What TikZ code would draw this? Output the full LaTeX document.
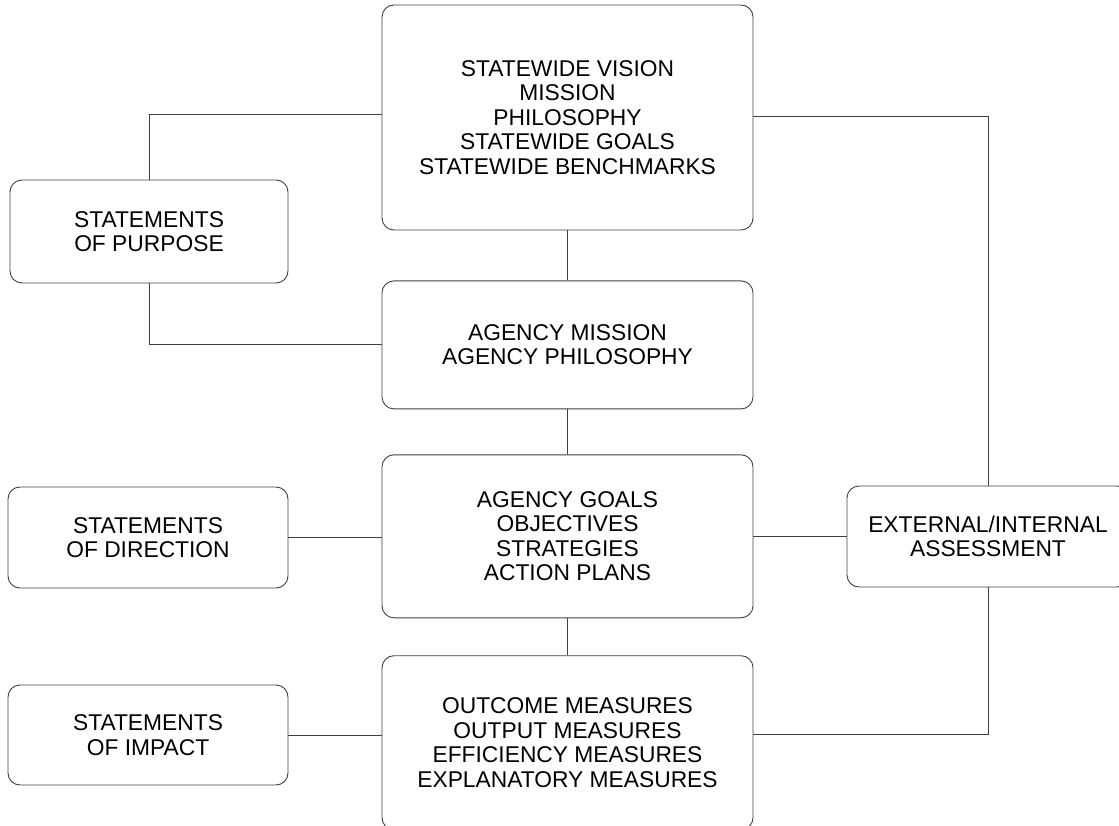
\documentclass[tikz,border=0pt]{standalone}
\usepackage{fontspec}
\setmainfont{Liberation Sans}
\usetikzlibrary{positioning}

\begin{document}
\begin{tikzpicture}[
    x=1pt, y=-1pt,
    node distance=45pt,
    box/.style={rectangle, rounded corners=12pt, draw=black!75, line width=0.9pt, align=center, inner sep=0pt, font=\fontsize{22.8}{24.5}\selectfont},
    line/.style={draw=black!75, line width=0.9pt}
]
\useasboundingbox (0,0) rectangle (1119,826);

% Centre column
\node[box, minimum width=371pt, minimum height=225pt] (vision) at (567.5,117.5) {STATEWIDE VISION\\MISSION\\PHILOSOPHY\\STATEWIDE GOALS\\STATEWIDE BENCHMARKS};
\node[box, minimum width=371pt, minimum height=128pt, below=50pt of vision] (mission) {AGENCY MISSION\\AGENCY PHILOSOPHY};
\node[box, minimum width=371pt, minimum height=163pt, below=of mission] (goals) {AGENCY GOALS\\OBJECTIVES\\STRATEGIES\\ACTION PLANS};
\node[box, minimum width=371pt, minimum height=174pt, below=37pt of goals] (measures) {OUTCOME MEASURES\\OUTPUT MEASURES\\EFFICIENCY MEASURES\\EXPLANATORY MEASURES};

% Side boxes
\node[box, minimum width=278pt, minimum height=103pt] (purpose) at (149,231.5) {STATEMENTS\\OF PURPOSE};
\node[box, minimum width=280pt, minimum height=101pt] (direction) at (148,537.5) {STATEMENTS\\OF DIRECTION};
\node[box, minimum width=280pt, minimum height=100pt] (impact) at (148,735) {STATEMENTS\\OF IMPACT};
\node[box, minimum width=282pt, minimum height=101pt] (assess) at (988,536.5) {EXTERNAL/INTERNAL\\ASSESSMENT};

% Connectors
\draw[line] (purpose.north) |- ([yshift=3.5pt]vision.west);
\draw[line] (purpose.south) |- (mission.west);
\draw[line] (vision) -- (mission);
\draw[line] (mission) -- (goals);
\draw[line] (goals) -- (measures);
\draw[line] (direction.east) -- (direction.east -| goals.west);
\draw[line] (goals.east |- assess.west) -- (assess.west);
\draw[line] (impact.east) -- (impact.east -| measures.west);
\draw[line] ([yshift=1.5pt]vision.east) -| (assess.north);
\draw[line] (assess.south) |- ([yshift=8pt]measures.east);

\end{tikzpicture}
\end{document}
